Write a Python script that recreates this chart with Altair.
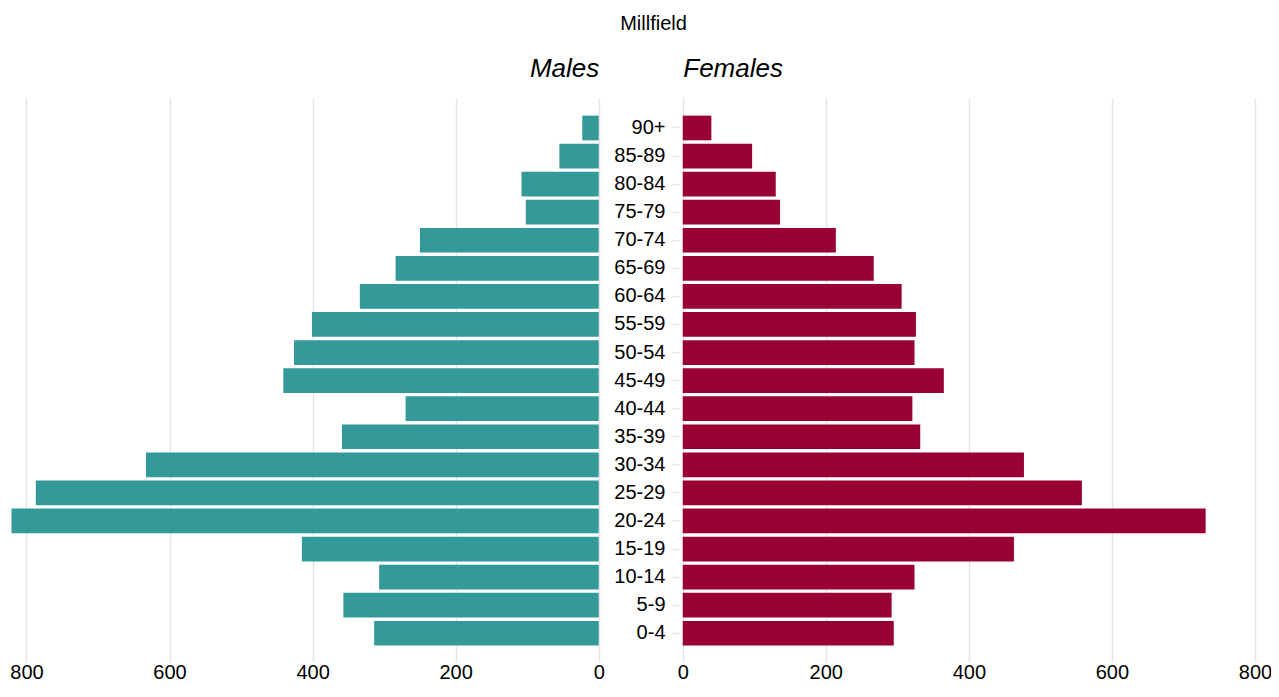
import altair as alt
import pandas as pd

ages = ["0-4", "5-9", "10-14", "15-19", "20-24", "25-29", "30-34", "35-39",
        "40-44", "45-49", "50-54", "55-59", "60-64", "65-69", "70-74",
        "75-79", "80-84", "85-89", "90+"]
males = [314, 357, 307, 415, 821, 787, 633, 359, 270, 441, 426, 401, 334,
         284, 250, 102, 108, 55, 23]
females = [295, 292, 324, 463, 731, 558, 477, 332, 321, 365, 324, 326, 306,
           267, 214, 136, 130, 97, 40]
tick_values = [0, 200, 400, 600, 800]

male_color = "#339999"
female_color = "#990033"
grid_color = "#E5E5E5"
FONT = "Liberation Sans"

# layout constants (scale units): gap between the two zero lines, domain ends
GAP = 117.43
U_LEFT = -943.29
U_RIGHT = 822.38

df = pd.DataFrame({
    "Age": ages + ages,
    "Sex": ["Males"] * len(ages) + ["Females"] * len(ages),
    "Pop": males + females,
})
order = ages[::-1]

axis_vals = [-GAP - v for v in tick_values[::-1]] + tick_values
xscale = alt.Scale(domain=[U_LEFT, U_RIGHT], nice=False, zero=False)
yscale = alt.Scale(domain=order, paddingInner=0.12, paddingOuter=0.535, align=0.587)

yaxis = alt.Axis(title=None, orient="left", offset=-671, domain=False, ticks=True,
                 tickColor=grid_color, tickWidth=1.5, tickSize=7, labelPadding=7,
                 labelFontSize=20, labelColor="black", labelFont=FONT, grid=False)

bottom_axis = alt.Axis(values=axis_vals, title=None, orient="bottom", grid=True,
                       gridColor=grid_color, gridWidth=1.5, domain=False, ticks=True,
                       tickColor=grid_color, tickWidth=1.5, tickSize=4, labelPadding=0,
                       labelFontSize=20, labelColor="black", labelFont=FONT,
                       labelExpr=f"datum.value < -1 ? format(-datum.value - {GAP}, 'd') : format(datum.value, 'd')")

top_axis = alt.Axis(values=[-GAP, 0], title=None, orient="top", grid=False, domain=False,
                    ticks=False, tickSize=0, labelPadding=17, labelFontSize=26,
                    labelFontStyle="italic", labelColor="black", labelFont=FONT,
                    labelAlign=alt.condition("datum.value < -1", alt.value("right"),
                                             alt.value("left")),
                    labelExpr="datum.value < -1 ? 'Males' : 'Females'")

base = alt.Chart(df).transform_calculate(
    start=f"datum.Sex == 'Males' ? {-GAP} : 0",
    end=f"datum.Sex == 'Males' ? {-GAP} - datum.Pop : datum.Pop",
)

color = alt.Color("Sex:N", scale=alt.Scale(domain=["Males", "Females"],
                                           range=[male_color, female_color]),
                  legend=None)

male_bars = base.transform_filter(alt.datum.Sex == "Males").mark_bar().encode(
    x=alt.X("start:Q", scale=xscale, axis=bottom_axis),
    x2="end:Q",
    y=alt.Y("Age:N", sort=order, scale=yscale, axis=yaxis),
    color=color,
)

female_bars = base.transform_filter(alt.datum.Sex == "Females").mark_bar().encode(
    x=alt.X("start:Q", scale=xscale, axis=top_axis),
    x2="end:Q",
    y=alt.Y("Age:N", sort=order, scale=yscale, axis=yaxis),
    color=color,
)

chart = alt.layer(male_bars, female_bars).resolve_axis(x="independent").properties(
    width=1263, height=560,
    padding={"left": 0, "top": 90, "right": 0, "bottom": 23},
    autosize=alt.AutoSizeParams(type="none"),
    background="white",
    title=alt.TitleParams("Millfield", anchor="middle", frame="group", fontSize=20,
                          font=FONT, fontWeight="normal", color="black", offset=21,
                          dx=14),
).configure_view(strokeWidth=0, stroke="transparent")

chart.save("out.html", embed_options={"renderer": "svg", "actions": False})
